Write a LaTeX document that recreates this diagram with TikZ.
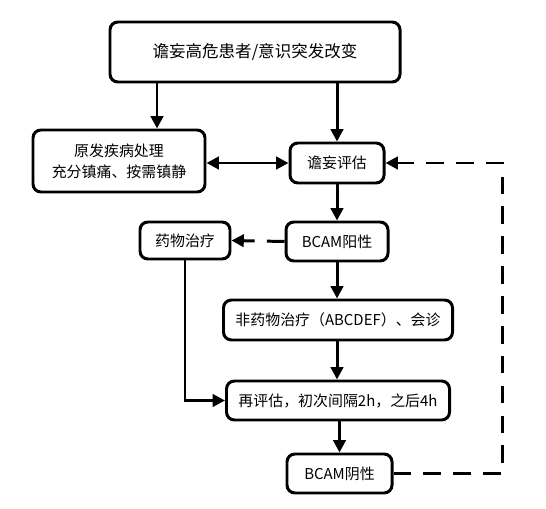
\documentclass[tikz,border=0pt]{standalone}
\usepackage{fontspec}
\setmainfont{Noto Sans CJK SC}
\usepackage{tikz}
\usetikzlibrary{arrows.meta}
\usetikzlibrary{positioning}

\begin{document}
\begin{tikzpicture}[
  box/.style={draw, line width=1.7pt, rounded corners=4.5pt, align=center,
    inner sep=0pt, font=\fontsize{8.5pt}{12pt}\selectfont},
  arr/.style={line width=1.7pt, -{Triangle[length=7pt,width=7pt]}},
  twoarr/.style={line width=1.7pt, {Triangle[length=7pt,width=7pt]}-{Triangle[length=7pt,width=7pt]}},
  dasharr/.style={arr, dash pattern=on 10pt off 7pt}
]
\useasboundingbox (0,0) rectangle (10.92,10.16);
\node [box, minimum width=5.8cm, minimum height=1.2cm, font=\fontsize{9.4pt}{12pt}\selectfont] (risk) at (5.10,9.12) {谵妄高危患者/意识突发改变};
\node [box, minimum width=3.44cm, minimum height=1.24cm] (primary) at (2.38,6.94) {原发疾病处理\\充分镇痛、按需镇静};
\node [box, minimum width=1.88cm, minimum height=0.8cm] (assess) at (6.74,6.90) {谵妄评估};
\node [box, minimum width=1.8cm, minimum height=0.74cm] (drug) at (3.70,5.35) {药物治疗};
\node [box, minimum width=2.04cm, minimum height=0.78cm] (pos) at (6.74,5.33) {BCAM阳性};
\node [box, minimum width=4.58cm, minimum height=0.8cm] (nondrug) at (6.76,3.76) {非药物治疗（ABCDEF）、会诊};
\node [box, minimum width=4.46cm, minimum height=0.78cm] (reassess) at (6.76,2.15) {再评估，初次间隔2h，之后4h};
\node [box, minimum width=2.1cm, minimum height=0.78cm] (neg) at (6.79,0.69) {BCAM阴性};
% main flow
\draw [arr] (risk.south -| 3.14,0) -- (primary.north -| 3.14,0);
\draw [arr] (risk.south -| assess.north) -- (assess.north);
\draw [twoarr] (primary.east |- assess.west) -- (assess.west);
\draw [arr] (assess.south) -- (pos.north);
\draw [dasharr] (pos.west) -- (drug.east);
\draw [arr] (pos.south) -- (nondrug.north -| pos.south);
\draw [arr] (nondrug.south -| pos.south) -- (reassess.north -| pos.south);
\draw [arr] (drug.south) |- (reassess.west);
\draw [arr] (reassess.south -| neg.north) -- (neg.north);
% loop back
\draw [dasharr] (neg.east) -- ++(2.18,0) |- (assess.east);
\end{tikzpicture}
\end{document}
